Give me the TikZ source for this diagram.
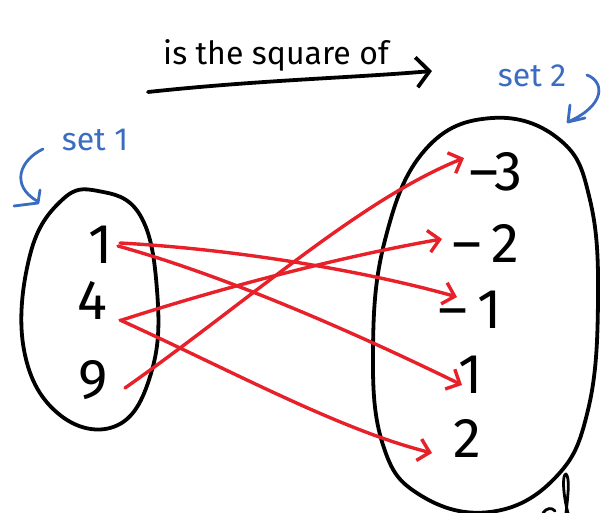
\documentclass[tikz,border=0pt]{standalone}
\usepackage{fontspec}
\setmainfont{Fira Sans}
\usetikzlibrary{arrows.meta}
\definecolor{penred}{HTML}{E8202A}
\definecolor{penblue}{HTML}{3A6CC0}
\tikzset{
  blackpen/.style={draw=black, line width=3.8pt, line cap=round, line join=round},
  redpen/.style={draw=penred, line width=3.4pt, line cap=round, line join=round, -{Straight Barb[length=11pt,width=22pt,line width=3.4pt]}},
  bluepen/.style={draw=penblue, line width=2.8pt, line cap=round, line join=round},
  num/.style={font=\fontsize{56}{56}\selectfont, inner sep=0pt, anchor=center},
  bluelabel/.style={text=penblue, font=\fontsize{32}{32}\selectfont, inner sep=0pt},
}
\begin{document}
\begin{tikzpicture}[x=1pt,y=-1pt]
\useasboundingbox (0,0) rectangle (603,513);
% title
\node[font=\fontsize{32}{32}\selectfont, inner sep=0pt] (title) at (276,55) {is the square of};
\coordinate (ta) at (148,92);
\coordinate (tb) at (432,71);
\draw[blackpen, -{Straight Barb[length=13pt,width=30pt,line width=3.8pt]}] (ta) .. controls (260,80) and (350,78) .. (tb);
% set labels
\node[bluelabel] (s1) at (95,140) {set 1};
\node[bluelabel] (s2) at (532,76) {set 2};
\draw[bluepen] (43,149) .. controls (20,160) and (10,185) .. (37,201);
\draw[bluepen] (40,190) -- (38,203) -- (14,206);
\draw[bluepen] (587,75) .. controls (605,82) and (605,105) .. (570,121);
\draw[bluepen] (570,105) -- (568,122) -- (585,118);
% ellipses
\draw[blackpen] plot[smooth cycle, tension=0.7] coordinates {(98,191) (140,215) (157,290) (152,370) (118,425) (60,415) (24,350) (30,255) (62,200)};
\draw[blackpen] plot[smooth cycle, tension=0.7] coordinates {(492,118) (560,140) (590,200) (598,300) (588,410) (555,478) (490,512) (420,495) (383,445) (373,350) (385,240) (425,150)};
% left numbers
\node[num] (l1) at (101,245) {1};
\node[num] (l4) at (92,300) {4};
\node[num] (l9) at (93,380) {9};
% right numbers
\node[num] (rm3) at (496,172) {–3};
\node[num] (rm2) at (486,243) {–\,2};
\node[num] (rm1) at (470,310) {–\,1};
\node[num] (r1) at (471,375) {1};
\node[num] (r2) at (467,438) {2};
% arrow endpoints
\coordinate (a1s) at (120,243);
\coordinate (a1e) at (457,297);
\coordinate (a2s) at (118,246);
\coordinate (a2e) at (462,385);
\coordinate (a3s) at (122,320);
\coordinate (a3e) at (442,239);
\coordinate (a4s) at (120,320);
\coordinate (a4e) at (432,453);
\coordinate (a5s) at (125,388);
\coordinate (a5e) at (464,158);
\draw[redpen] (a1s) .. controls (250,250) and (380,275) .. (a1e);
\draw[redpen] (a2s) .. controls (240,280) and (380,345) .. (a2e);
\draw[redpen] (a3s) .. controls (230,285) and (350,255) .. (a3e);
\draw[redpen] (a4s) .. controls (230,370) and (340,430) .. (a4e);
\draw[redpen] (a5s) .. controls (250,300) and (360,200) .. (a5e);
% bottom-right scribble
\draw[blackpen, line width=2.8pt] (566,513) .. controls (568,495) and (570,478) .. (566,474) .. controls (562,474) and (563,495) .. (568,513);
\draw[blackpen, line width=2.8pt] (543,513) .. controls (546,508) and (552,507) .. (555,511);
\end{tikzpicture}
\end{document}
